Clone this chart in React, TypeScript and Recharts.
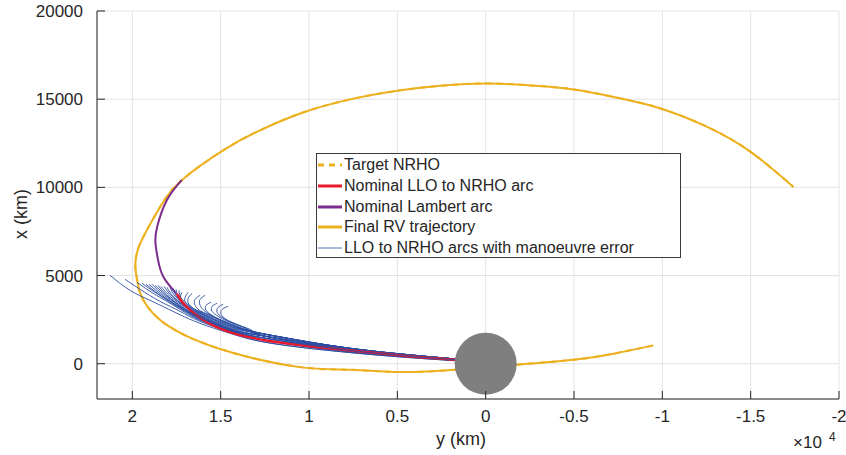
import React from 'react'
import { LineChart, Line, XAxis, YAxis, CartesianGrid, Legend, ReferenceDot } from 'recharts'

// [y km, x km] pairs
const xTicks = [20000, 15000, 10000, 5000, 0, -5000, -10000, -15000, -20000]
const yTicks = [0, 5000, 10000, 15000, 20000]

const nrhoPath: [number, number][] = [
  [-9480, 1040], [-7250, 570], [-4990, 227], [-1740, -57], [1720, -340], [4830, -470],
  [7670, -340], [10500, -193], [14280, 610], [17010, 1610], [18620, 2645], [19468, 3781],
  [19705, 4615], [19830, 5520], [19730, 6320], [19380, 7190], [18430, 8890], [17200, 10410],
  [14840, 12110], [12950, 13150], [10500, 14190], [7670, 14990], [5020, 15475], [2570, 15760],
  [-80, 15896], [-2530, 15780], [-4990, 15555], [-7630, 15045], [-9900, 14476], [-12540, 13432],
  [-15000, 12013], [-17420, 10026],
]

const lambertArc: [number, number][] = [
  [17200, 10410], [18050, 9270], [18600, 7740], [18690, 6830], [18540, 5860], [18230, 4900], [17520, 3990],
]

const nominalArc: [number, number][] = [
  [17484, 3974], [16918, 3213], [15218, 2078], [12425, 1323], [8629, 852], [4833, 471], [1717, 227],
]

// shared approach to the Moon, slightly fanned
const errorTails: [number, number][][] = [
  [[12425, 1664], [8629, 1010], [4833, 556], [1717, 272]],
  [[12425, 1550], [8629, 937], [4833, 511], [1717, 244]],
  [[12425, 1437], [8629, 869], [4833, 471], [1717, 227]],
  [[12425, 1323], [8629, 795], [4833, 426], [1717, 199]],
  [[12425, 1209], [8629, 727], [4833, 386], [1717, 170]],
]

// free end of each perturbed arc, then the tail it joins
const errorArcs: { tail: number; pts: [number, number][] }[] = [
  { tail: 4, pts: [[21263, 5013], [20130, 4161], [18997, 3594], [17581, 2912], [16164, 2288], [14465, 1720]] },
  { tail: 4, pts: [[20414, 4786], [19564, 4218], [18431, 3537], [17297, 2969], [16164, 2401], [14465, 1777]] },
  { tail: 3, pts: [[19734, 4615], [18997, 4104], [18147, 3594], [17297, 3083], [16164, 2458], [14465, 1834]] },
  { tail: 3, pts: [[19450, 4559], [18714, 4048], [17864, 3537], [17014, 3026], [16164, 2515], [14465, 1834]] },
  { tail: 3, pts: [[19224, 4502], [18431, 3877], [17581, 3310], [16164, 2515], [14465, 1834]] },
  { tail: 3, pts: [[19054, 4502], [18317, 3877], [17411, 3253], [16164, 2572], [14465, 1890]] },
  { tail: 2, pts: [[18884, 4502], [18204, 3877], [17297, 3253], [16164, 2572], [14465, 1890]] },
  { tail: 2, pts: [[18714, 4445], [18091, 3877], [17184, 3196], [16164, 2628], [14465, 1890]] },
  { tail: 2, pts: [[18544, 4445], [17977, 3821], [17128, 3196], [16164, 2628], [14465, 1890]] },
  { tail: 2, pts: [[18374, 4388], [17864, 3821], [17014, 3196], [16164, 2685], [14465, 1947]] },
  { tail: 1, pts: [[18204, 4388], [17751, 3821], [16958, 3196], [16164, 2685], [14465, 1947]] },
  { tail: 1, pts: [[18034, 4332], [17637, 3764], [16844, 3139], [16164, 2742], [14465, 1947]] },
  { tail: 1, pts: [[17864, 4332], [17524, 3764], [16788, 3139], [16164, 2742], [14465, 2004]] },
  { tail: 1, pts: [[17694, 4275], [17411, 3707], [16731, 3139], [16164, 2799], [14465, 2004]] },
  { tail: 0, pts: [[17524, 4218], [17297, 3650], [16674, 3139], [16164, 2856], [14465, 2061]] },
  { tail: 0, pts: [[17354, 4161], [17184, 3650], [16618, 3196], [16164, 2912], [14465, 2118]] },
  { tail: 0, pts: [[17184, 4048], [17297, 3764], [17184, 3423], [16731, 3083], [16164, 2856], [14465, 2118]] },
  { tail: 0, pts: [[16844, 4048], [17014, 3764], [16958, 3423], [16561, 3083], [16164, 2912], [14465, 2174]] },
  { tail: 0, pts: [[16618, 3991], [16844, 3707], [16788, 3366], [16448, 3083], [15881, 2856], [14465, 2231]] },
  { tail: 0, pts: [[16164, 3877], [16448, 3650], [16448, 3310], [16108, 2969], [15484, 2685], [14351, 2174]] },
  { tail: 0, pts: [[15881, 3877], [16164, 3650], [16164, 3310], [15881, 2969], [15314, 2628], [14181, 2118]] },
  { tail: 1, pts: [[15541, 3480], [15824, 3310], [15824, 3026], [15484, 2742], [14918, 2458], [13898, 2061]] },
  { tail: 1, pts: [[15201, 3423], [15484, 3253], [15484, 2969], [15144, 2685], [14578, 2401], [13615, 2004]] },
  { tail: 1, pts: [[14861, 3366], [15144, 3196], [15201, 2912], [14918, 2628], [14351, 2345], [13445, 1947]] },
  { tail: 1, pts: [[14578, 3253], [14918, 3083], [14975, 2799], [14691, 2515], [14125, 2231], [13218, 1890]] },
]
// this arc hugs the nominal one and is drawn above it
const topArc = 7

const legendItems = [
  { label: 'Target NRHO', color: '#edb120', width: 3, dash: '6 5' },
  { label: 'Nominal LLO to NRHO arc', color: '#e8192c', width: 3, dash: undefined },
  { label: 'Nominal Lambert arc', color: '#7b2b8c', width: 3, dash: undefined },
  { label: 'Final RV trajectory', color: '#edb120', width: 3, dash: undefined },
  { label: 'LLO to NRHO arcs with manoeuvre error', color: '#5576c4', width: 1, dash: undefined },
]

const FONT = '"Liberation Sans", Arial, Helvetica, sans-serif'
const INK = '#262626'

const toPts = (arr: [number, number][]) => arr.map(([yKm, xKm]) => ({ yKm, xKm }))

function XTick({ x, y, payload }: any) {
  return (
    <g>
      <line x1={x} x2={x} y1={y} y2={y - 8} stroke={INK} />
      <text x={x} y={y + 23} textAnchor="middle" fontSize={17} fill={INK} fontFamily={FONT}>
        {String(payload.value / 10000)}
      </text>
    </g>
  )
}

function YTick({ x, y, payload }: any) {
  return (
    <g>
      <line x1={x} x2={x + 8} y1={y} y2={y} stroke={INK} />
      <text x={x - 14} y={y + 6} textAnchor="end" fontSize={17} fill={INK} fontFamily={FONT}>
        {String(payload.value)}
      </text>
    </g>
  )
}

function XLabel({ viewBox }: any) {
  const { y } = viewBox
  return (
    <g fontFamily={FONT} fill={INK}>
      <text x={461} y={y + 46} textAnchor="middle" fontSize={18}>y (km)</text>
      <text x={793} y={y + 49} fontSize={17}>×10</text>
      <text x={829} y={y + 42} fontSize={12}>4</text>
    </g>
  )
}

function LegendBox() {
  return (
    <div style={{
      width: 365, height: 105, boxSizing: 'border-box', border: '1px solid #3a3a3a',
      background: '#fff', fontFamily: FONT, fontSize: 16, color: INK, paddingTop: 1,
    }}>
      {legendItems.map(it => (
        <div key={it.label} style={{ height: 20.7, display: 'flex', alignItems: 'center', whiteSpace: 'nowrap' }}>
          <svg width={26} height={10} style={{ flex: 'none' }}>
            <line x1={1} x2={25} y1={5} y2={5} stroke={it.color} strokeWidth={it.width} strokeDasharray={it.dash} />
          </svg>
          <span style={{ marginLeft: 1 }}>{it.label}</span>
        </div>
      ))}
    </div>
  )
}

function arcLine(arc: { tail: number; pts: [number, number][] }, i: number) {
  return (
    <Line
      key={i}
      data={toPts([...arc.pts, ...errorTails[arc.tail]])}
      dataKey="xKm"
      type="natural"
      stroke="#2b4ea3"
      strokeWidth={1}
      strokeOpacity={0.9}
      dot={false}
      isAnimationActive={false}
    />
  )
}

export default function App() {
  return (
    <div style={{ position: 'absolute', left: 0, top: 0, width: 846, height: 455, background: '#fff' }}>
      <LineChart width={846} height={455} margin={{ top: 11, right: 7, bottom: 16, left: 17 }}>
        <CartesianGrid stroke="#e3e3e3" strokeWidth={1} />
        <XAxis
          dataKey="yKm"
          type="number"
          domain={[-20000, 22000]}
          reversed
          ticks={xTicks}
          interval={0}
          allowDataOverflow
          height={40}
          tickSize={0}
          tickMargin={0}
          tickLine={false}
          axisLine={{ stroke: INK }}
          tick={<XTick />}
          label={{ content: <XLabel /> }}
        />
        <YAxis
          type="number"
          domain={[-2000, 20000]}
          ticks={yTicks}
          interval={0}
          allowDataOverflow
          width={80}
          tickSize={0}
          tickMargin={0}
          tickLine={false}
          axisLine={{ stroke: INK }}
          tick={<YTick />}
          label={{ value: 'x (km)', content: () => (
            <text x={27} y={214} transform="rotate(-90 27 214)" textAnchor="middle" fontSize={18} fill={INK} fontFamily={FONT}>x (km)</text>
          ) }}
        />
        <Legend
          content={<LegendBox />}
          layout="vertical"
          verticalAlign="middle"
          align="center"
          wrapperStyle={{ left: 316, top: 153, width: 365, height: 105 }}
        />
        <Line data={toPts(nrhoPath)} dataKey="xKm" type="natural" stroke="#edb120" strokeWidth={2} strokeDasharray="6 5" dot={false} isAnimationActive={false} />
        <Line data={toPts(nrhoPath)} dataKey="xKm" type="natural" stroke="#edb120" strokeWidth={2} dot={false} isAnimationActive={false} />
        <Line data={toPts(lambertArc)} dataKey="xKm" type="natural" stroke="#7b2b8c" strokeWidth={2} dot={false} isAnimationActive={false} />
        {errorArcs.map((arc, i) => (i === topArc ? null : arcLine(arc, i)))}
        <Line data={toPts(nominalArc)} dataKey="xKm" type="natural" stroke="#e8192c" strokeWidth={2.5} dot={false} isAnimationActive={false} />
        {arcLine(errorArcs[topArc], topArc)}
        <ReferenceDot x={0} y={0} r={31} fill="#7f7f7f" stroke="none" />
      </LineChart>
    </div>
  )
}
